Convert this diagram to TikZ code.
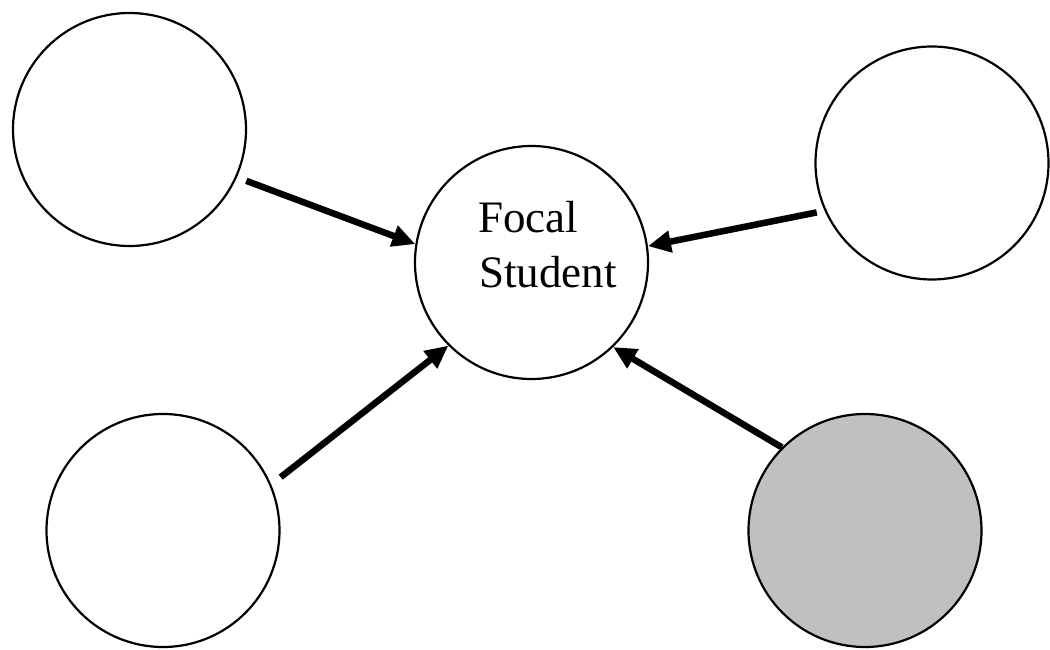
\documentclass[tikz,border=0pt]{standalone}
\usepackage{fontspec}
\setmainfont{Liberation Serif}
\usetikzlibrary{arrows.meta}
\definecolor{shade}{RGB}{192,192,192}
\tikzset{
  circ/.style={circle, draw=black, line width=2.2pt, minimum size=233pt, inner sep=0pt, fill=white},
  arr/.style={line width=6.5pt, -{Triangle[length=23pt,width=21pt]}},
  lbl/.style={font=\fontsize{45}{55}\selectfont, inner sep=0pt, anchor=base west}
}
\begin{document}
\begin{tikzpicture}[x=1pt,y=-1pt]
\useasboundingbox (0,0) rectangle (1050,650);
\node[circ] (tl) at (129.5,129.5) {};
\node[circ] (tr) at (932,163) {};
\node[circ] (bl) at (163,530.5) {};
\node[circ, fill=shade] (br) at (865,530.5) {};
\node[circ] (f) at (531.5,262.5) {};
\node[lbl] (ft1) at (478,232) {Focal};
\node[lbl] (ft2) at (479,287) {Student};
\draw[arr, shorten <=10pt] (tl.-24) -- (f.171);
\draw[arr, shorten <=8pt] (tr.-156) -- (f.8.5);
\draw[arr, shorten <=12pt] (bl.23) -- (f.-135);
\draw[arr] (br.135) -- (f.-46);
\end{tikzpicture}
\end{document}
